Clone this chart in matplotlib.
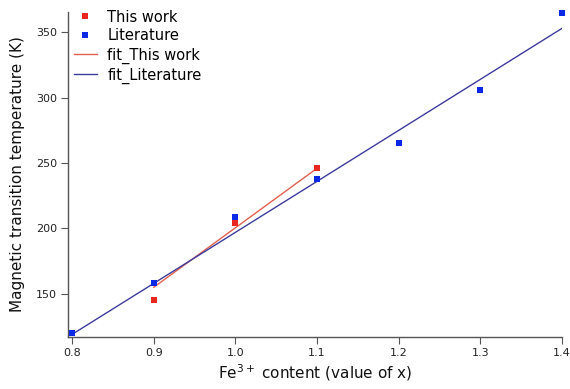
import matplotlib
matplotlib.use("Agg")
import matplotlib.pyplot as plt

# Data
this_x = [0.9, 1.0, 1.1]
this_y = [145.5, 204.5, 246.5]
lit_x = [0.8, 0.9, 1.0, 1.1, 1.2, 1.3, 1.4]
lit_y = [120, 158, 209, 238, 265.5, 305.5, 364.5]
fit_this_x = [0.9, 1.1]
fit_this_y = [155, 246]
fit_lit_x = [0.8, 1.4]
fit_lit_y = [119, 353]
xticks = [0.8, 0.9, 1.0, 1.1, 1.2, 1.3, 1.4]
yticks = [150, 200, 250, 300, 350]

plt.rcParams['font.family'] = ['DejaVu Sans']

fig = plt.figure(figsize=(5.70, 3.89), dpi=100)
ax = fig.add_axes([68/570, 1 - 337/389, (562 - 68)/570, (337 - 12)/389])

red = '#e8281e'
blue = '#0a28e6'
ax.plot(fit_this_x, fit_this_y, color='#e0604e', lw=1.0, label='fit_This work', zorder=2)
ax.plot(fit_lit_x, fit_lit_y, color='#3c3c9c', lw=1.0, label='fit_Literature', zorder=2)
ax.plot(this_x, this_y, 's', color=red, ms=5, mew=0, label='This work', zorder=3, clip_on=False)
ax.plot(lit_x, lit_y, 's', color=blue, ms=5, mew=0, label='Literature', zorder=3, clip_on=False)

ax.set_xlim(0.795, 1.4)
ax.set_ylim(117, 365.5)
ax.set_xticks(xticks)
ax.set_xticklabels(['%.1f' % v for v in xticks])
ax.set_yticks(yticks)
for s in ['top', 'right']:
    ax.spines[s].set_visible(False)
for s in ['left', 'bottom']:
    ax.spines[s].set_color('#555555')
    ax.spines[s].set_linewidth(1.0)
ax.tick_params(direction='out', length=5, width=0.8, color='#555555',
               labelsize=8, labelcolor='#222222', pad=3)

ax.set_ylabel('Magnetic transition temperature (K)', fontsize=11, color='#111111', labelpad=8)
ax.set_xlabel('Fe$^{3+}$ content (value of x)', fontsize=11, color='#111111', labelpad=3)

handles, labels = ax.get_legend_handles_labels()
order = [2, 3, 0, 1]
ax.legend([handles[i] for i in order], [labels[i] for i in order],
          loc='upper left', bbox_to_anchor=(-0.003, 1.03), frameon=False,
          fontsize=10.5, handlelength=1.6, handletextpad=0.7,
          labelspacing=0.27, borderaxespad=0.1, markerscale=0.9)

fig.savefig('out.png', dpi=100)
